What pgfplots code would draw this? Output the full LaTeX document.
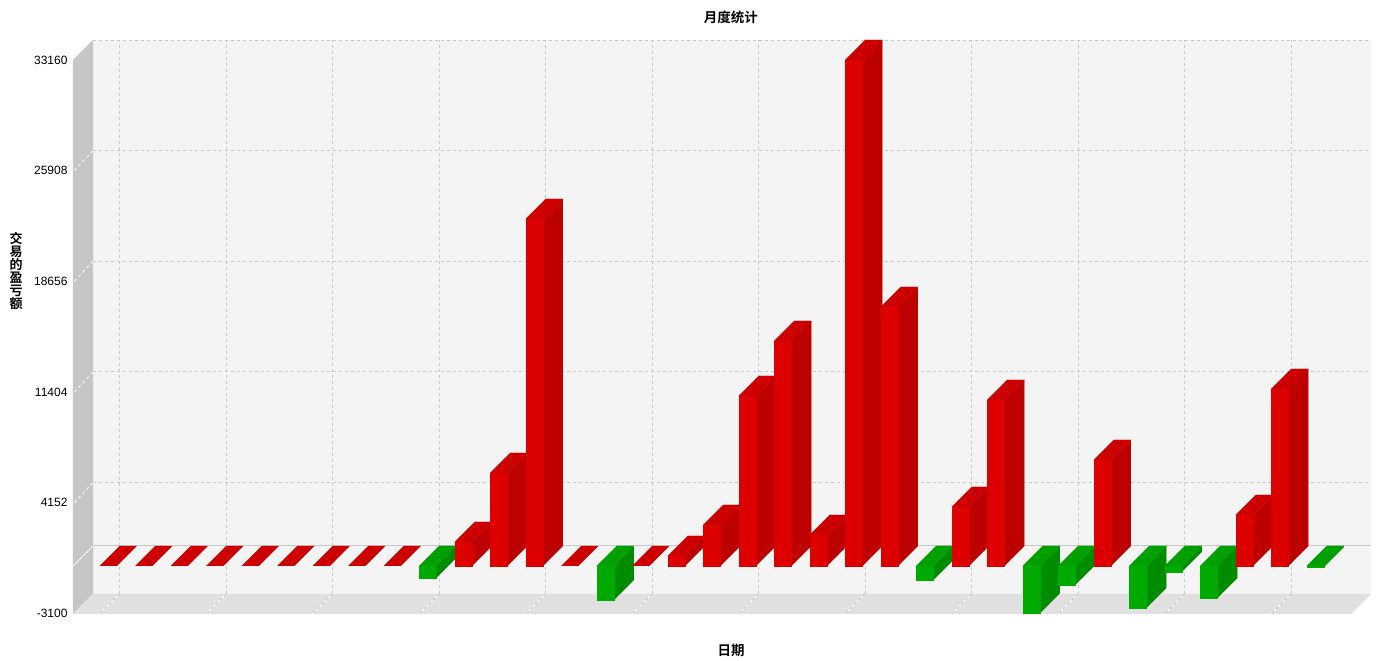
\documentclass[border=0pt]{standalone}
\usepackage{fontspec}
\usepackage{xfp}
\usepackage{pgfplots}
\pgfplotsset{compat=1.18}
\setmainfont{Liberation Sans}
\newfontfamily\cjk[BoldFont=Noto Sans CJK SC Bold]{Noto Sans CJK SC}
\definecolor{wallBack}{RGB}{244,244,244}
\definecolor{wallLeft}{RGB}{198,198,198}
\definecolor{wallFloor}{RGB}{224,224,224}
\definecolor{gridc}{RGB}{200,200,200}
\definecolor{rF}{RGB}{220,0,0}
\definecolor{rS}{RGB}{189,0,0}
\definecolor{rT}{RGB}{204,0,0}
\definecolor{gF}{RGB}{0,170,0}
\definecolor{gS}{RGB}{0,140,0}
\definecolor{gT}{RGB}{0,160,0}
% depth: 20 px = 0.5634 slots in x and 1311 units in y
\newcommand{\threeD}[5]{%
  \edef\bL{\fpeval{#1-0.25}}%
  \edef\bR{\fpeval{#1+0.235}}%
  \edef\bLb{\fpeval{#1-0.25+0.5634}}%
  \edef\bRb{\fpeval{#1+0.235+0.5634}}%
  \edef\bT{\fpeval{max(#2,0)}}%
  \edef\bB{\fpeval{min(#2,0)}}%
  \edef\bTb{\fpeval{max(#2,0)+1311}}%
  \edef\bBb{\fpeval{min(#2,0)+1311}}%
  \addplot[fill=#4,draw=#4,line width=0.1pt,forget plot] coordinates {(\bR,\bB) (\bRb,\bBb) (\bRb,\bTb) (\bR,\bT)};
  \addplot[fill=#5,draw=#5,line width=0.1pt,forget plot] coordinates {(\bL,\bT) (\bLb,\bTb) (\bRb,\bTb) (\bR,\bT)};
  \addplot[fill=#3,draw=#3,line width=0.1pt,forget plot] coordinates {(\bL,\bB) (\bR,\bB) (\bR,\bT) (\bL,\bT)};
}
\newcommand{\rbar}[2]{\threeD{#1}{#2}{rF}{rS}{rT}}
\newcommand{\gbar}[2]{\threeD{#1}{#2}{gF}{gS}{gT}}
% a bar of value 0 shows only its top face
\newcommand{\rflat}[1]{%
  \edef\bL{\fpeval{#1-0.25}}%
  \edef\bR{\fpeval{#1+0.235}}%
  \edef\bLb{\fpeval{#1-0.25+0.5634}}%
  \edef\bRb{\fpeval{#1+0.235+0.5634}}%
  \addplot[fill=rT,draw=none,forget plot] coordinates {(\bL,0) (\bLb,1311) (\bRb,1311) (\bR,0)};
}
\newcommand{\hgrid}[2]{% front value, back value
  \addplot[white,line width=0.8pt,dash pattern=on 3pt off 3pt,forget plot] coordinates {(-0.96,#1) (-0.4366,#2)};
  \addplot[gridc,line width=1pt,dash pattern=on 3pt off 3pt,forget plot] coordinates {(-0.4366,#2) (35.563,#2)};
}
\newcommand{\vgrid}[2]{% back x, front x
  \addplot[gridc,line width=1pt,dash pattern=on 3pt off 3pt,forget plot] coordinates {(#1,-1835) (#1,34471)};
  \addplot[white,line width=0.8pt,forget plot] coordinates {(#1,-1835) (#2,-3146)};
  \addplot[gridc,line width=1pt,dash pattern=on 3pt off 3pt,forget plot] coordinates {(#1,-1835) (#2,-3146)};
}
\begin{document}
\begin{tikzpicture}
\path[use as bounding box] (-73pt,-47pt) rectangle (1319pt,614pt);
\begin{axis}[
  at={(0pt,0pt)},anchor=south west,
  scale only axis,width=1298pt,height=574pt,
  xmin=-1,xmax=35.563,ymin=-3146,ymax=34471,
  axis line style={draw=none},
  tick style={draw=none},
  xtick=\empty,
  ytick={-3100,4152,11404,18656,25908,33160},
  scaled y ticks=false,
  yticklabel style={font=\fontsize{12}{12}\selectfont,/pgf/number format/assume math mode=true,/pgf/number format/1000 sep={},/pgf/number format/fixed,/pgf/number format/precision=0,xshift=-2pt},
  title={月度统计},
  title style={at={(axis description cs:0.5069,1.0285)},anchor=center,font=\cjk\bfseries\fontsize{13.5}{13.5}\selectfont},
  xlabel={日期},
  xlabel style={at={(axis description cs:0.507,-0.0627)},anchor=center,font=\cjk\bfseries\fontsize{13.5}{13.5}\selectfont},
  ylabel={交\\易\\的\\盈\\亏\\额},
  ylabel style={at={(axis description cs:-0.0439,0.5976)},anchor=center,rotate=-90,align=center,font=\cjk\bfseries\fontsize{13}{13}\selectfont},
]
% walls
\addplot[fill=wallBack,draw=none,forget plot] coordinates {(-0.4366,-1835) (35.563,-1835) (35.563,34471) (-0.4366,34471)};
\addplot[fill=wallLeft,draw=none,forget plot] coordinates {(-1,-3146) (-0.4366,-1835) (-0.4366,34471) (-1,33160)};
\addplot[fill=wallFloor,draw=none,forget plot] coordinates {(-1,-3146) (-0.4366,-1835) (35.563,-1835) (35.0,-3146)};
% gridlines
\hgrid{4152}{5463}
\hgrid{11404}{12715}
\hgrid{18656}{19967}
\hgrid{25908}{27219}
\addplot[gridc,line width=1pt,dash pattern=on 3pt off 3pt,forget plot] coordinates {(-0.4366,34440) (35.563,34440)};
\vgrid{0.31}{-0.2534}
\vgrid{3.31}{2.7466}
\vgrid{6.31}{5.7466}
\vgrid{9.31}{8.7466}
\vgrid{12.31}{11.7466}
\vgrid{15.31}{14.7466}
\vgrid{18.31}{17.7466}
\vgrid{21.31}{20.7466}
\vgrid{24.31}{23.7466}
\vgrid{27.31}{26.7466}
\vgrid{30.31}{29.7466}
\vgrid{33.31}{32.7466}
% zero line
\addplot[white,line width=0.8pt,forget plot] coordinates {(-1,0) (-0.4366,1311)};
\addplot[gridc,line width=1pt,forget plot] coordinates {(-0.4366,1311) (35.563,1311)};
% bars
\rflat{0}
\rflat{1}
\rflat{2}
\rflat{3}
\rflat{4}
\rflat{5}
\rflat{6}
\rflat{7}
\rflat{8}
\gbar{9}{-767}
\rbar{10}{1573}
\rbar{11}{6095}
\rbar{12}{22741}
\rflat{13}
\gbar{14}{-2228}
\rflat{15}
\rbar{16}{655}
\rbar{17}{2687}
\rbar{18}{11141}
\rbar{19}{14745}
\rbar{20}{2032}
\rbar{21}{33160}
\rbar{22}{16974}
\gbar{23}{-917}
\rbar{24}{3867}
\rbar{25}{10879}
\gbar{26}{-3100}
\gbar{27}{-1225}
\rbar{28}{6947}
\gbar{29}{-2752}
\gbar{30}{-374}
\gbar{31}{-2097}
\rbar{32}{3342}
\rbar{33}{11600}
\gbar{34}{-66}
\end{axis}
\end{tikzpicture}
\end{document}
